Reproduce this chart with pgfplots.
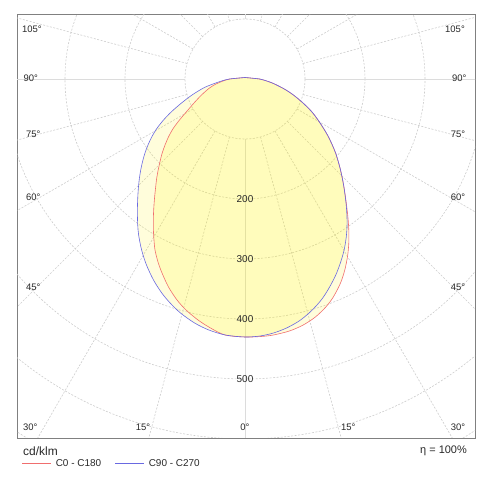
\documentclass[border=0pt]{standalone}
\usepackage{fontspec}
\setmainfont{Liberation Sans}
\usepackage{pgfplots}
\pgfplotsset{compat=1.18}
\usepackage{pgfplotstable}

\definecolor{curvered}{RGB}{240,110,110}
\definecolor{curveblue}{RGB}{105,105,225}
\definecolor{gridc}{RGB}{205,205,205}
\definecolor{txt}{RGB}{40,40,40}

% C0 - C180 outline, cd/klm (x: horizontal, y: vertical, nadir down)
\pgfplotstableread{
x y
0 2.5
-25 0
-36.7 -3.33
-48.3 -8.33
-59.2 -15
-72.5 -26.67
-85 -40
-97.5 -54.5
-109.2 -68.33
-119.5 -82.17
-127.2 -95.83
-133.3 -110
-138 -123.33
-141.7 -137.83
-144.7 -151.67
-147.2 -165.5
-148.8 -179.17
-150.3 -193.33
-151.7 -210
-152.7 -230
-152.7 -251.67
-151.7 -268.33
-150 -285
-145 -305
-138.3 -323.33
-127.5 -346.67
-113.3 -368.33
-98.3 -385
-78.3 -401.67
-57.5 -415
-33.3 -426.67
0 -430
26.7 -429.17
47.3 -426.67
74 -420
97 -410
117.3 -396.67
134.7 -380
147.2 -363.33
159.2 -340
166.3 -318.33
171 -295
173 -273.33
173 -251.67
171.5 -230
169.2 -210
167 -193.33
164.8 -179.17
162.2 -165.5
159.2 -151.67
155.5 -137.83
151 -123.33
145.5 -110
138.8 -95.83
130.8 -82.17
121.7 -68.33
111.2 -54.5
96.7 -40
80.7 -26.67
68.3 -18.33
58.3 -12.83
46.7 -7.17
36.2 -3.33
24.2 0
0 2.5
}\redtab

% C90 - C270 outline
\pgfplotstableread{
x y
0 2.5
-25.8 0
-39.2 -3.33
-53.3 -8.33
-69.2 -15
-88.3 -26.67
-105.8 -40
-122.5 -54.5
-135.8 -68.33
-146.7 -82.17
-155 -95.83
-161.7 -110
-166.7 -123.33
-170.8 -137.83
-173.8 -151.67
-176 -165.5
-177.5 -179.17
-178.5 -193.33
-179.2 -210
-179.3 -226.67
-178.8 -243.33
-177.3 -260
-172.3 -285
-164.2 -310
-152.5 -335
-138.7 -356.67
-124.8 -373.33
-107.5 -390
-84 -406.67
-60.3 -418.33
-32.7 -426.67
0 -430
25 -428.33
47.5 -423.33
69.3 -415
90.2 -403.33
106.8 -390
120 -376.67
130.7 -363.33
141 -346.67
151.3 -326.67
159.5 -305
165.2 -285
168.8 -263.33
170 -246.67
170 -230
168.7 -210
166.7 -193.33
164.7 -179.17
162.2 -165.5
159.2 -151.67
155.5 -137.83
151 -123.33
145.5 -110
138.8 -95.83
130.8 -82.17
121.7 -68.33
111.2 -54.5
96.7 -40
80.7 -26.67
68.3 -18.33
58.3 -12.83
46.7 -7.17
36.2 -3.33
24.2 0
0 2.5
}\bluetab

\begin{document}
\begin{tikzpicture}
\begin{axis}[
  scale only axis, width=458bp, height=423bp,
  xmin=-380, xmax=383.33, ymin=-598.33, ymax=106.67,
  axis line style={draw=black!50, line width=1bp},
  ticks=none, clip=true,
  legend columns=2,
  legend style={draw=none, fill=none, at={(rel axis cs:0,0)}, anchor=north west,
    xshift=5bp, yshift=-19bp, font=\fontsize{10}{12}\selectfont\color{txt},
    inner xsep=0pt, inner ysep=0pt,
    /tikz/every odd column/.append style={column sep=2bp},
    /tikz/every even column/.append style={column sep=12bp}},
  legend image code/.code={\draw[#1] (0bp,0bp) -- (29bp,0bp);},
  legend cell align=left,
]
% grid circles
\pgfplotsinvokeforeach{100,200,300,400,500,600,700,800}{
  \draw[gridc, line width=0.6bp, dash pattern=on 2bp off 1.5bp] (axis cs:0,0) circle[radius=#1];
}
% radial dashed lines
\pgfplotsinvokeforeach{15,30,45,60,75,105,120,135,150,165,195,210,225,240,255,285,300,315,330,345}{
  \draw[gridc, line width=0.6bp, dash pattern=on 2bp off 1.5bp]
    (axis cs:{100*sin(#1)},{-100*cos(#1)}) -- (axis cs:{1000*sin(#1)},{-1000*cos(#1)});
}
% solid axes lines
\pgfplotsinvokeforeach{0,90,180,270}{
  \draw[gridc!70, line width=0.6bp]
    (axis cs:{100*sin(#1)},{-100*cos(#1)}) -- (axis cs:{1000*sin(#1)},{-1000*cos(#1)});
}

% fills
\addplot[forget plot, draw=none, fill=yellow, fill opacity=0.14, smooth] table {\bluetab};
\addplot[forget plot, draw=none, fill=yellow, fill opacity=0.14, smooth] table {\redtab};

% curves
\addplot[curvered, line width=0.6bp, smooth] table {\redtab};
\addlegendentry{C0 - C180}
\addplot[curveblue, line width=0.6bp, smooth] table {\bluetab};
\addlegendentry{C90 - C270}

% radius labels
\begin{scope}[every node/.style={font=\fontsize{10}{12}\selectfont, text=txt}]
\node at (axis cs:0,-200) {200};
\node at (axis cs:0,-300) {300};
\node at (axis cs:0,-400) {400};
\node at (axis cs:0,-500) {500};
\end{scope}
% angle labels
\begin{scope}[every node/.style={font=\fontsize{9.5}{11}\selectfont, text=txt}]
\node at (axis cs:-355,83) {105°};
\node at (axis cs:-357,2) {90°};
\node at (axis cs:-353,-92) {75°};
\node at (axis cs:-353,-197) {60°};
\node at (axis cs:-353,-347) {45°};
\node at (axis cs:-358,-580) {30°};
\node at (axis cs:-170,-580) {15°};
\node at (axis cs:0,-580) {0°};
\node at (axis cs:172,-580) {15°};
\node at (axis cs:355,-580) {30°};
\node at (axis cs:355,-347) {45°};
\node at (axis cs:355,-197) {60°};
\node at (axis cs:355,-92) {75°};
\node at (axis cs:357,2) {90°};
\node at (axis cs:350,83) {105°};
\end{scope}
\end{axis}
\node[anchor=west, inner sep=0pt, font=\fontsize{12}{14}\selectfont, text=txt] at (6bp,-13bp) {cd/klm};
\node[anchor=east, inner sep=0pt, font=\fontsize{11}{13}\selectfont, text=txt] at (450bp,-13bp) {η = 100\%};
\pgfresetboundingbox
\path[use as bounding box] (-17bp,-54bp) rectangle (475bp,438bp);
\end{tikzpicture}
\end{document}
